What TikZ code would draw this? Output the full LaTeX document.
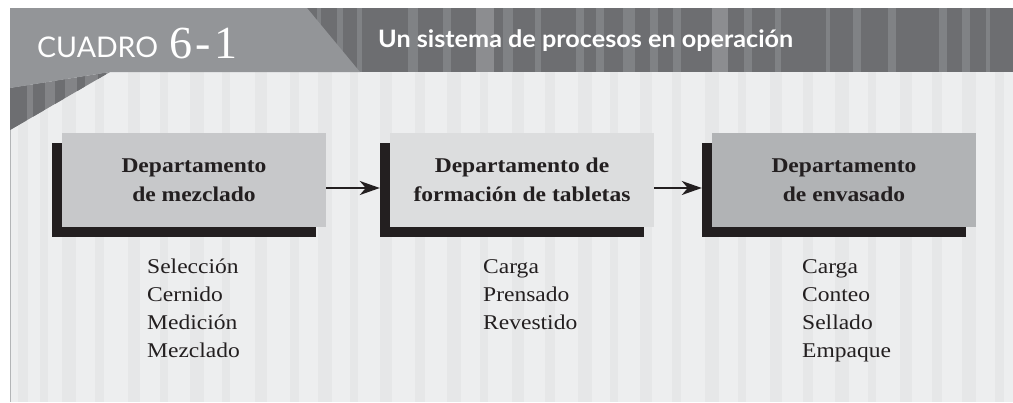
\documentclass[tikz,border=0pt]{standalone}
\usepackage{fontspec}
\setmainfont{Liberation Serif}
\newfontfamily\serifw[FakeStretch=1.12]{Liberation Serif}
\newfontfamily\latofont{Lato}
\newfontfamily\latowide[FakeStretch=1.05]{Lato}
\usetikzlibrary{shadows,arrows.meta,calc}
\definecolor{bdark}{HTML}{6D6E71}
\definecolor{blight}{HTML}{939598}
\definecolor{bstripe}{HTML}{808285}
\definecolor{bstripe2}{HTML}{8C8D90}
\definecolor{panelbg}{HTML}{EDEEEF}
\definecolor{pstripe}{HTML}{E6E7E8}
\definecolor{boxa}{HTML}{C7C8CA}
\definecolor{boxb}{HTML}{DCDDDE}
\definecolor{boxc}{HTML}{B1B3B5}
\definecolor{inkc}{HTML}{231F20}
\definecolor{wedgec}{HTML}{838487}
\tikzset{
  deptbox/.style={minimum width=264pt, minimum height=94pt, inner sep=0pt, align=center,
    text=inkc, font={\serifw\bfseries\fontsize{21}{29}\selectfont},
    drop shadow={shadow xshift=-10pt, shadow yshift=-10pt, fill=inkc, opacity=1}},
  listtxt/.style={align=left, inner sep=0pt, text=inkc, font={\serifw\fontsize{21}{28}\selectfont}},
  flowarrow/.style={draw=inkc, line width=2pt, -{Stealth[length=20pt,width=14pt,inset=6pt]}}
}
\begin{document}
\begin{tikzpicture}[x=1pt,y=-1pt]
\useasboundingbox (0,0) rectangle (1013,402);
% panel
\fill[panelbg] (10,72) rectangle (1013,402);
\foreach \a/\w in {18/10,40/8,62/14,95/9,128/12,160/8,190/14,222/8,255/12,290/9,318/14,350/8,380/12,415/10,447/14,480/8,512/12,545/10,578/14,610/8,640/12,672/9,705/14,738/8,770/12,803/10,835/14,868/8,900/12,932/10,962/14,995/9}
  \fill[pstripe] (\a,72) rectangle ++(\w,330);
\draw[line width=1pt, color=blight!70] (10.5,72) -- (10.5,402);
% banner
\fill[bdark] (10,8) rectangle (1013,72);
\begin{scope}
\clip (10,8) rectangle (1013,72);
\foreach \a/\w/\c in {317/4/bstripe,337/6/bstripe,357/5/bstripe,408/10/bstripe,443/8/bstripe,476/18/bstripe2,503/10/bstripe,535/6/bstripe,576/8/bstripe,596/8/bstripe,623/12/bstripe,650/8/bstripe,673/8/bstripe,712/16/bstripe2,744/8/bstripe,775/6/bstripe,826/4/bstripe,853/8/bstripe,888/8/bstripe,939/8/bstripe,962/8/bstripe,986/4/bstripe}
  \fill[\c] (\a,8) rectangle ++(\w,64);
\end{scope}
% wedge below banner
\begin{scope}
\clip (110,72) -- (10,88) -- (10,130) -- cycle;
\fill[wedgec] (10,72) rectangle (110,130);
\foreach \a/\w in {10/17,33/12,55/10,77/8,98/8}
  \fill[bdark] (\a,72) rectangle ++(\w,58);
\end{scope}
\fill[blight] (10,8) -- (307,8) -- (360,72) -- (110,72) -- (10,88) -- cycle;
% header texts
\node[anchor=base west, inner sep=0pt, text=white, font={\latofont\fontsize{28.5}{28.5}\selectfont}] (cuadro) at (37,57) {CUADRO};
\node[anchor=base west, inner sep=0pt, text=white, font={\fontsize{46}{46}\selectfont}] (num) at (169,58) {6\kern3pt-\kern4pt1};
\node[anchor=base west, inner sep=0pt, text=white, font={\latowide\bfseries\fontsize{24}{24}\selectfont}] (title) at (378,47) {Un sistema de procesos en operación};
% boxes
\node[deptbox, fill=boxa] (b1) at (194,180) {Departamento\\de mezclado};
\node[deptbox, fill=boxb] (b2) at (522,180) {Departamento de\\formación de tabletas};
\node[deptbox, fill=boxc] (b3) at (844,180) {Departamento\\de envasado};
% arrows
\draw[flowarrow] ([yshift=-8pt]b1.east) -- ([xshift=-10pt,yshift=-8pt]b2.west);
\draw[flowarrow] ([yshift=-8pt]b2.east) -- ([xshift=-10pt,yshift=-8pt]b3.west);
% lists
\node[listtxt, anchor=north west] (l1) at (147,259) {Selección\\Cernido\\Medición\\Mezclado};
\node[listtxt, anchor=north west] (l2) at (483,259) {Carga\\Prensado\\Revestido};
\node[listtxt, anchor=north west] (l3) at (802,259) {Carga\\Conteo\\Sellado\\Empaque};
\end{tikzpicture}
\end{document}
